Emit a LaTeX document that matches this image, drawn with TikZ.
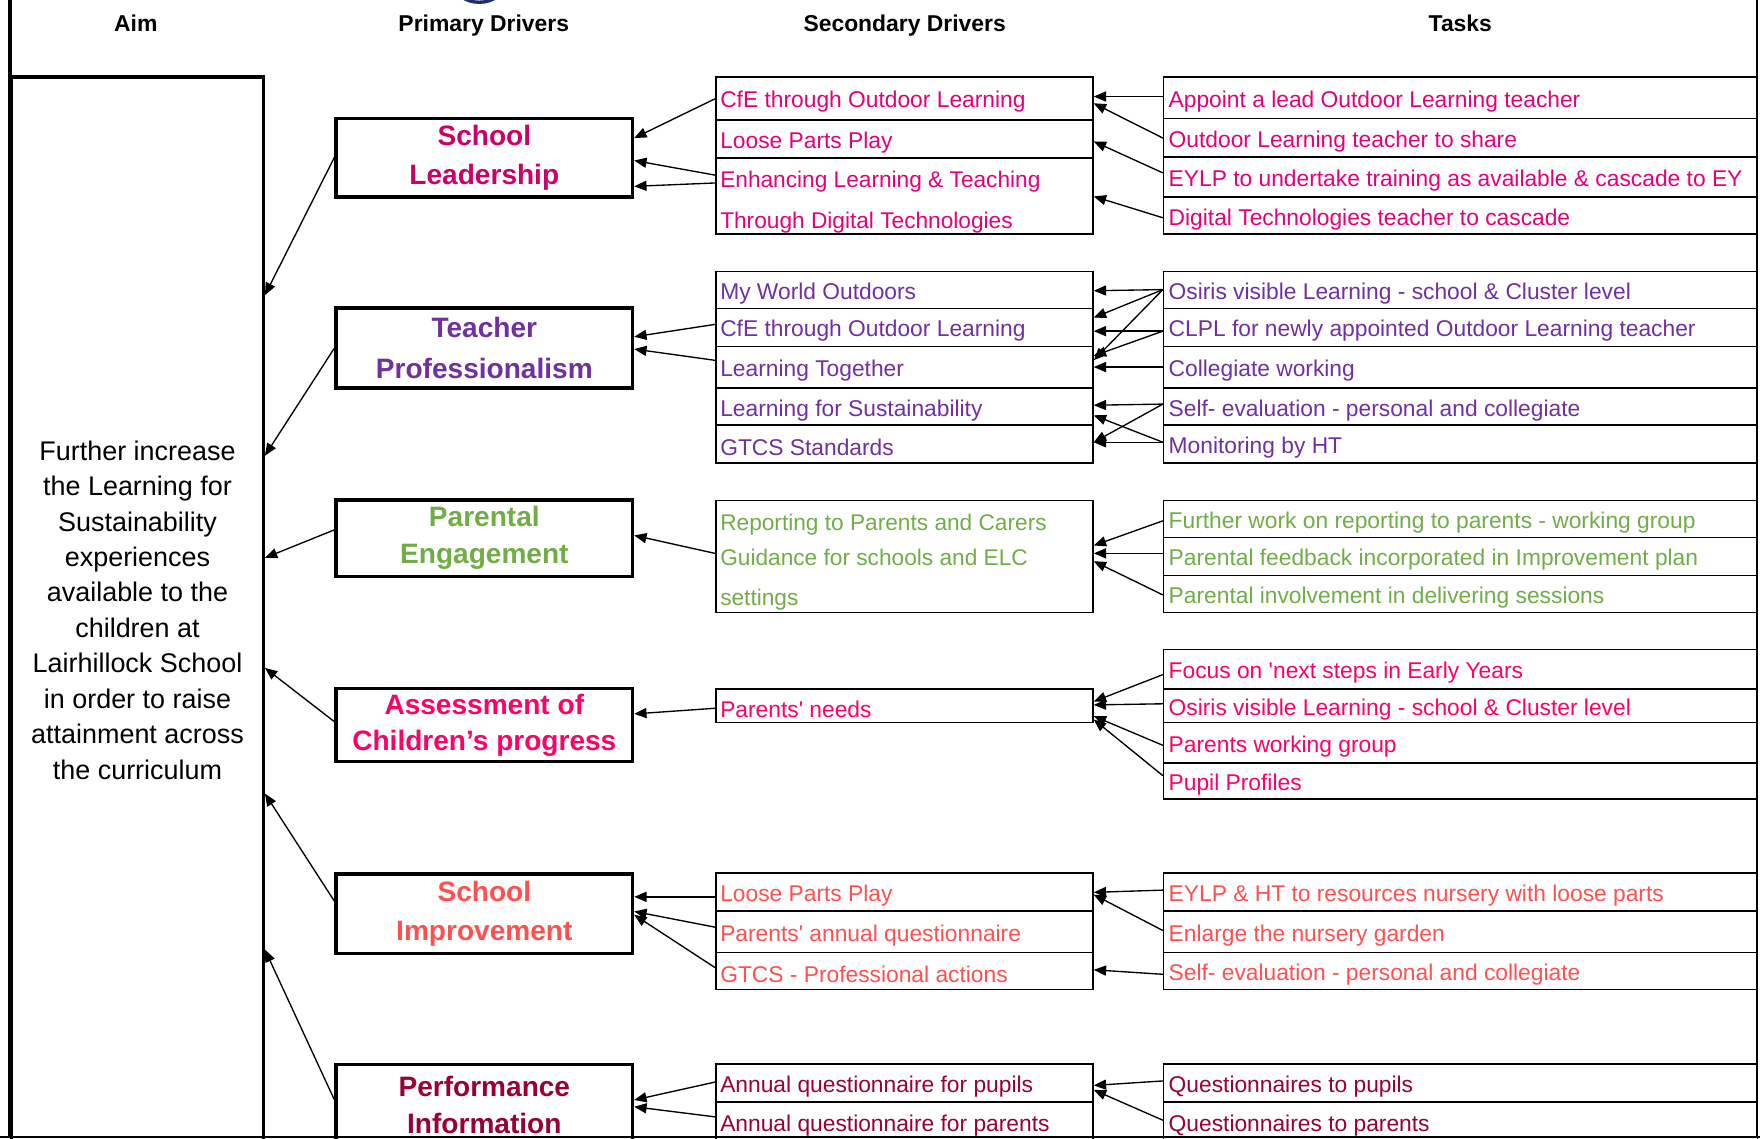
\documentclass[tikz,border=0pt]{standalone}
\usepackage{fontspec}
\setmainfont{Liberation Sans}
\usetikzlibrary{arrows.meta}
\definecolor{cA}{HTML}{CC0066}
\definecolor{cAt}{HTML}{E4007C}
\definecolor{cB}{HTML}{7030A0}
\definecolor{cC}{HTML}{70AD47}
\definecolor{cD}{HTML}{FF0066}
\definecolor{cE}{HTML}{FF5050}
\definecolor{cF}{HTML}{990033}
\definecolor{logoblue}{HTML}{1F2F6B}
\newcommand{\Stxt}[1]{\raisebox{-1.6pt}[\height][\depth]{\makebox[164pt][l]{#1}}}
\newcommand{\Ttxt}[1]{\raisebox{-1.6pt}[\height][\depth]{\makebox[260pt][l]{#1}}}
\newcommand{\Mtxt}[2]{\raisebox{-2.6pt}[\height][\depth]{\parbox[c]{164pt}{\fontsize{10.1}{#1}\selectfont #2}}}
\begin{document}
\begin{tikzpicture}[x=0.5pt,y=-0.5pt,
  hdr/.style={font=\fontsize{10.2}{12}\selectfont\bfseries, inner sep=0pt, anchor=base},
  pbox/.style={draw, line width=1.5pt, anchor=north west, minimum width=132pt, align=center, inner sep=0pt, font=\fontsize{12.5}{17}\selectfont\bfseries},
  srow/.style={draw, line width=0.7pt, anchor=north west, minimum width=168pt, inner xsep=2pt, inner ysep=0pt, font=\fontsize{10.15}{12}\selectfont},
  trow/.style={srow, minimum width=264.5pt},
  arr/.style={-{Triangle[length=5.5pt,width=4.5pt]}, line width=0.6pt, black}]
\clip (0,0) rectangle (1568,1014);
% frame
\draw[logoblue, line width=1.5pt] (427,-14) ellipse [x radius=11pt, y radius=8pt];
\draw[line width=1.5pt] (9,0) -- (9,1014);
\draw[line width=1pt] (1565,0) -- (1565,1014);
\draw[line width=1pt] (0,1013) -- (1568,1013);
% headers
\node[hdr] (hAim) at (121,28) {Aim};
\node[hdr] (hPri) at (431,28) {Primary Drivers};
\node[hdr] (hSec) at (806,28) {Secondary Drivers};
\node[hdr] (hTask) at (1301,28) {Tasks};
% aim
\node[draw, line width=1.5pt, anchor=north west, minimum width=112pt, minimum height=475pt, align=center, inner sep=0pt, font=\fontsize{12}{15.8}\selectfont] (aim) at (9,67)
 {Further increase\\the Learning for\\Sustainability\\experiences\\available to the\\children at\\Lairhillock School\\in order to raise\\attainment across\\the curriculum};
% primary drivers
\node[pbox, minimum height=35pt, text=cA] (p1) at (298,104) {School\\Leadership};
\node[pbox, minimum height=35.5pt, text=cB, font=\fontsize{12.5}{18}\selectfont\bfseries] (p2) at (298,273) {Teacher\\Professionalism};
\node[pbox, minimum height=34pt, text=cC, font=\fontsize{12.5}{16.5}\selectfont\bfseries] (p3) at (298,444) {Parental\\Engagement};
\node[pbox, minimum height=32.5pt, text=cD, font=\fontsize{12.5}{16}\selectfont\bfseries] (p4) at (298,612) {Assessment of\\Children’s progress};
\node[pbox, minimum height=35.5pt, text=cE] (p5) at (298,777) {School\\Improvement};
\node[pbox, minimum height=36pt, text=cF, font=\fontsize{12.5}{16.5}\selectfont\bfseries] (p6) at (298,947) {Performance\\Information};
% secondary drivers and tasks
\begin{scope}[every node/.append style={text=cAt}]
\node[srow, minimum height=19pt] (s1a) at (637,68) {\Stxt{CfE through Outdoor Learning}};
\node[srow, minimum height=17pt] (s1b) at (637,106) {\Stxt{Loose Parts Play}};
\node[srow, minimum height=34pt] (s1c) at (637,140) {\Mtxt{18pt}{Enhancing Learning \& Teaching\\Through Digital Technologies}};
\node[trow, minimum height=18.5pt] (t1a) at (1036,68) {\Ttxt{Appoint a lead Outdoor Learning teacher}};
\node[trow, minimum height=17pt] (t1b) at (1036,105) {\Ttxt{Outdoor Learning teacher to share}};
\node[trow, minimum height=18pt] (t1c) at (1036,139) {\Ttxt{EYLP to undertake training as available \& cascade to EY}};
\node[trow, minimum height=16.5pt] (t1d) at (1036,175) {\Ttxt{Digital Technologies teacher to cascade}};
\end{scope}
\begin{scope}[every node/.append style={text=cB}]
\node[srow, minimum height=16.5pt] (s2a) at (637,241) {\Stxt{My World Outdoors}};
\node[srow, minimum height=17pt] (s2b) at (637,274) {\Stxt{CfE through Outdoor Learning}};
\node[srow, minimum height=18.5pt] (s2c) at (637,308) {\Stxt{Learning Together}};
\node[srow, minimum height=16.5pt] (s2d) at (637,345) {\Stxt{Learning for Sustainability}};
\node[srow, minimum height=17pt] (s2e) at (637,378) {\Stxt{GTCS Standards}};
\node[trow, minimum height=16.5pt] (t2a) at (1036,241) {\Ttxt{Osiris visible Learning - school \& Cluster level}};
\node[trow, minimum height=17pt] (t2b) at (1036,274) {\Ttxt{CLPL for newly appointed Outdoor Learning teacher}};
\node[trow, minimum height=18.5pt] (t2c) at (1036,308) {\Ttxt{Collegiate working}};
\node[trow, minimum height=16.5pt] (t2d) at (1036,345) {\Ttxt{Self- evaluation - personal and collegiate}};
\node[trow, minimum height=17pt] (t2e) at (1036,378) {\Ttxt{Monitoring by HT}};
\end{scope}
\begin{scope}[every node/.append style={text=cC}]
\node[srow, minimum height=50pt] (s3) at (637,445) {\Mtxt{15.5pt}{Reporting to Parents and Carers\\Guidance for schools and ELC\\[2.5pt]settings}};
\node[trow, minimum height=16.5pt] (t3a) at (1036,445) {\Ttxt{Further work on reporting to parents - working group}};
\node[trow, minimum height=17pt] (t3b) at (1036,478) {\Ttxt{Parental feedback incorporated in Improvement plan}};
\node[trow, minimum height=16.5pt] (t3c) at (1036,512) {\Ttxt{Parental involvement in delivering sessions}};
\end{scope}
\begin{scope}[every node/.append style={text=cD}]
\node[srow, minimum height=15pt] (s4) at (637,613) {\Stxt{Parents\textquotesingle{} needs}};
\node[trow, minimum height=17.5pt] (t4a) at (1036,578) {\Ttxt{Focus on \textquotesingle next steps in Early Years}};
\node[trow, minimum height=15pt] (t4b) at (1036,613) {\Ttxt{Osiris visible Learning - school \& Cluster level}};
\node[trow, minimum height=18pt] (t4c) at (1036,643) {\Ttxt{Parents working group}};
\node[trow, minimum height=16pt] (t4d) at (1036,679) {\Ttxt{Pupil Profiles}};
\end{scope}
\begin{scope}[every node/.append style={text=cE}]
\node[srow, minimum height=17pt] (s5a) at (637,777) {\Stxt{Loose Parts Play}};
\node[srow, minimum height=18.5pt] (s5b) at (637,811) {\Stxt{Parents\textquotesingle{} annual questionnaire}};
\node[srow, minimum height=16.5pt] (s5c) at (637,848) {\Stxt{GTCS - Professional actions}};
\node[trow, minimum height=17pt] (t5a) at (1036,777) {\Ttxt{EYLP \& HT to resources nursery with loose parts}};
\node[trow, minimum height=18.5pt] (t5b) at (1036,811) {\Ttxt{Enlarge the nursery garden}};
\node[trow, minimum height=16.5pt] (t5c) at (1036,848) {\Ttxt{Self- evaluation - personal and collegiate}};
\end{scope}
\begin{scope}[every node/.append style={text=cF}]
\node[srow, minimum height=17pt] (s6a) at (637,947) {\Stxt{Annual questionnaire for pupils}};
\node[srow, minimum height=18pt] (s6b) at (637,981) {\Stxt{Annual questionnaire for parents}};
\node[trow, minimum height=17pt] (t6a) at (1036,947) {\Ttxt{Questionnaires to pupils}};
\node[trow, minimum height=18pt] (t6b) at (1036,981) {\Ttxt{Questionnaires to parents}};
\end{scope}
% primary -> aim
\draw[arr] (p1.west |- 0,140) -- (aim.east |- 0,263);
\draw[arr] (p2.west |- 0,310) -- (aim.east |- 0,406);
\draw[arr] (p3.west |- 0,472) -- (aim.east |- 0,497);
\draw[arr] (p4.west |- 0,643) -- (aim.east |- 0,595);
\draw[arr] (p5.west |- 0,803) -- (aim.east |- 0,707);
\draw[arr] (p6.west |- 0,980) -- (aim.east |- 0,846);
% secondary -> primary
\draw[arr] (s1a.west |- 0,88) -- (p1.east |- 0,123);
\draw[arr] (s1c.west |- 0,156) -- (p1.east |- 0,143);
\draw[arr] (s1c.west |- 0,163) -- (p1.east |- 0,166);
\draw[arr] (s2b.west |- 0,289) -- (p2.east |- 0,300);
\draw[arr] (s2c.west |- 0,321) -- (p2.east |- 0,311);
\draw[arr] (s3.west |- 0,493) -- (p3.east |- 0,477);
\draw[arr] (s4.west |- 0,631) -- (p4.east |- 0,636);
\draw[arr] (s5a.west |- 0,799) -- (p5.east |- 0,799);
\draw[arr] (s5b.west |- 0,826) -- (p5.east |- 0,812);
\draw[arr] (s5c.west |- 0,862) -- (p5.east |- 0,815);
\draw[arr] (s6a.west |- 0,964) -- (p6.east |- 0,980);
\draw[arr] (s6b.west |- 0,995) -- (p6.east |- 0,986);
% tasks -> secondary
\draw[arr] (t1a.west |- 0,86) -- (s1a.east |- 0,86);
\draw[arr] (t1b.west |- 0,123) -- (s1a.east |- 0,92);
\draw[arr] (t1c.west |- 0,154) -- (s1b.east |- 0,126);
\draw[arr] (t1d.west |- 0,194) -- (s1c.east |- 0,175);
\draw[arr] (t2a.west |- 0,258) -- (s2a.east |- 0,259);
\draw[arr] (t2a.west |- 0,258) -- (s2b.east |- 0,283);
\draw[arr] (t2a.west |- 0,258) -- (s2c.east |- 0,321);
\draw[arr] (t2b.west |- 0,295) -- (s2b.east |- 0,295);
\draw[arr] (t2b.west |- 0,295) -- (s2c.east |- 0,317);
\draw[arr] (t2c.west |- 0,327) -- (s2c.east |- 0,327);
\draw[arr] (t2d.west |- 0,360) -- (s2d.east |- 0,361);
\draw[arr] (t2d.west |- 0,360) -- (s2e.east |- 0,394);
\draw[arr] (t2e.west |- 0,394) -- (s2e.east |- 0,394);
\draw[arr] (t2e.west |- 0,394) -- (s2d.east |- 0,370);
\draw[arr] (t3a.west |- 0,464) -- (s3.east |- 0,486);
\draw[arr] (t3b.west |- 0,493) -- (s3.east |- 0,493);
\draw[arr] (t3c.west |- 0,530) -- (s3.east |- 0,500);
\draw[arr] (t4a.west |- 0,601) -- (s4.east |- 0,625);
\draw[arr] (t4b.west |- 0,627) -- (s4.east |- 0,628);
\draw[arr] (t4c.west |- 0,664) -- (s4.east |- 0,638);
\draw[arr] (t4d.west |- 0,691) -- (s4.east |- 0,641);
\draw[arr] (t5a.west |- 0,793) -- (s5a.east |- 0,795);
\draw[arr] (t5b.west |- 0,829) -- (s5a.east |- 0,797);
\draw[arr] (t5c.west |- 0,868) -- (s5c.east |- 0,864);
\draw[arr] (t6a.west |- 0,963) -- (s6a.east |- 0,967);
\draw[arr] (t6b.west |- 0,998) -- (s6a.east |- 0,971);
\end{tikzpicture}
\end{document}
